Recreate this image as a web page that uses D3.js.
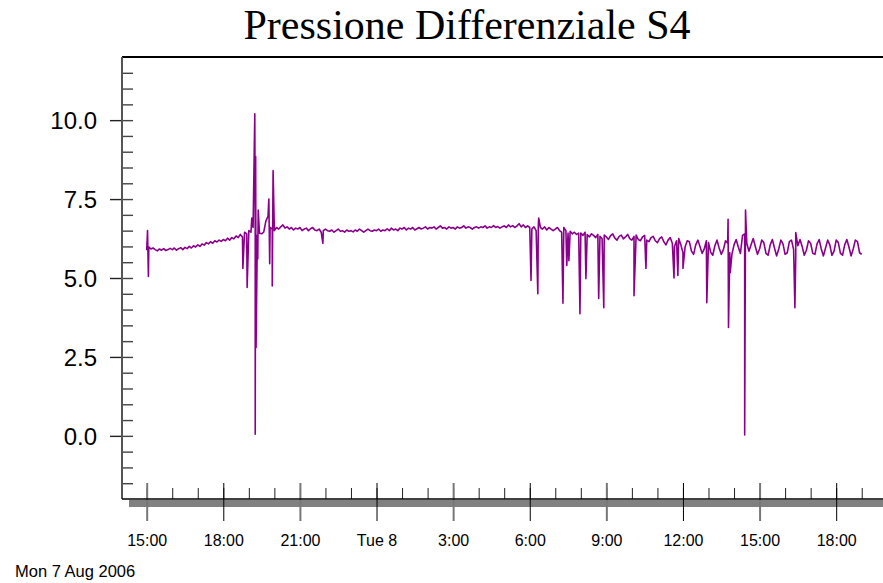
<!DOCTYPE html>
<html>
<head>
    <script src="https://d3js.org/d3.v7.min.js"></script>
    <style>
        body { margin: 0; background: #fff; }
        text { font-family: Arial, "Liberation Sans", sans-serif; }
    </style>
</head>
<body>
<div id="chart"></div>
<script>

    // readings every 5 minutes from Mon 7 Aug 2006 15:00, one row per hour
    var pressure = [
        5.88, 5.98, 5.92, 5.95, 5.90, 5.86, 5.92, 5.88, 5.93, 5.87, 5.90, 5.94,
        5.90, 5.95, 5.88, 5.93, 5.96, 5.90, 5.97, 5.93, 6.00, 5.95, 6.02, 5.98,
        6.05, 6.00, 6.08, 6.04, 6.12, 6.08, 6.15, 6.10, 6.18, 6.14, 6.20, 6.16,
        6.22, 6.18, 6.26, 6.20, 6.28, 6.24, 6.33, 6.28, 6.38, 6.30, 6.45, 6.40,
        6.50, 6.45, 6.60, 6.40, 6.35, 6.42, 6.40, 6.45, 6.80, 6.95, 6.60, 6.55,
        6.50, 6.60, 6.55, 6.62, 6.68, 6.58, 6.62, 6.55, 6.60, 6.52, 6.58, 6.55,
        6.60, 6.50, 6.55, 6.58, 6.50, 6.56, 6.60, 6.52, 6.50, 6.55, 6.45, 6.50,
        6.55, 6.50, 6.48, 6.52, 6.45, 6.50, 6.55, 6.48, 6.50, 6.45, 6.52, 6.48,
        6.50, 6.46, 6.52, 6.48, 6.55, 6.50, 6.45, 6.50, 6.55, 6.50, 6.48, 6.52,
        6.50, 6.55, 6.48, 6.52, 6.50, 6.56, 6.50, 6.58, 6.52, 6.55, 6.50, 6.58,
        6.55, 6.60, 6.52, 6.58, 6.55, 6.60, 6.52, 6.56, 6.60, 6.55, 6.58, 6.62,
        6.55, 6.60, 6.58, 6.62, 6.55, 6.60, 6.65, 6.58, 6.60, 6.55, 6.62, 6.58,
        6.60, 6.55, 6.62, 6.58, 6.60, 6.65, 6.58, 6.62, 6.60, 6.55, 6.60, 6.62,
        6.58, 6.62, 6.60, 6.65, 6.58, 6.62, 6.60, 6.66, 6.60, 6.63, 6.58, 6.62,
        6.65, 6.60, 6.68, 6.62, 6.66, 6.60, 6.65, 6.72, 6.62, 6.68, 6.60, 6.65,
        6.60, 6.55, 6.62, 6.50, 6.58, 6.60, 6.55, 6.62, 6.52, 6.60, 6.55, 6.50,
        6.55, 6.60, 6.50, 6.45, 6.60, 6.50, 6.42, 6.48, 6.40, 6.45, 6.38, 6.42,
        6.42, 6.35, 6.45, 6.38, 6.30, 6.40, 6.35, 6.28, 6.38, 6.32, 6.25, 6.36,
        6.30, 6.22, 6.34, 6.40, 6.26, 6.20, 6.32, 6.36, 6.24, 6.30, 6.38, 6.25,
        6.20, 6.32, 6.36, 6.22, 6.18, 6.30, 6.35, 6.20, 6.15, 6.28, 6.32, 6.18,
        6.12, 6.25, 6.30, 6.15, 6.05, 6.20, 6.28, 6.10, 6.00, 6.18, 6.25, 6.05,
        5.80, 5.98, 6.18, 6.15, 5.85, 5.75, 6.05, 6.20, 6.00, 5.78, 5.92, 6.18,
        6.12, 5.82, 5.72, 6.02, 6.20, 5.95, 5.75, 5.90, 6.18, 6.10, 5.80, 5.75,
        6.05, 6.22, 5.98, 5.78, 6.35, 6.40, 6.10, 5.85, 6.05, 6.25, 6.00, 5.75,
        5.92, 6.20, 6.12, 5.78, 5.72, 6.05, 6.22, 5.95, 5.70, 5.92, 6.20, 6.08,
        5.75, 5.80, 6.15, 6.20, 5.90, 5.72, 6.02, 6.22, 6.00, 5.72, 5.88, 6.18,
        6.10, 5.78, 5.75, 6.08, 6.22, 5.92, 5.70, 5.95, 6.20, 6.05, 5.72, 5.85,
        6.20, 6.12, 5.78, 5.72, 6.05, 6.22, 5.98, 5.70, 5.92, 6.20, 6.15, 5.80,
        5.75
    ];

    // short spikes, minutes after the start
    var spikeMinutes = [2, 4, 226, 236, 247, 254, 255, 256, 257, 261, 262, 287, 289, 295, 297, 414,
        903, 919, 921, 978, 987, 992, 1018, 1032, 1062, 1074, 1145, 1173, 1239, 1248, 1260,
        1316, 1366, 1367, 1371, 1405, 1407, 1523, 1525];
    var spikeValues = [6.5, 5.05, 5.3, 4.7, 6.9, 10.2, 0.05, 8.85, 2.8, 5.6, 7.15, 7.5, 5.45, 4.75, 8.4, 6.1,
        4.92, 4.5, 6.9, 4.2, 5.4, 5.55, 3.87, 4.98, 4.35, 4.06, 4.44, 5.3, 5.0, 5.08, 5.3,
        4.22, 6.86, 3.43, 5.17, 0.03, 7.15, 4.06, 6.44];

    var yTickValues = [0, 2.5, 5, 7.5, 10];
    var title = 'Pressione Differenziale S4';

    var start = new Date(2006, 7, 7, 15, 0);
    var stepMinutes = 5;

    var width = 883, height = 583;
    var plotLeft = 122, plotTop = 57, plotBottom = 499, plotRight = 883;

    var data = pressure.map(function(v, i) { return { t: i * stepMinutes, v: v }; })
        .concat(spikeMinutes.map(function(m, i) { return { t: m, v: spikeValues[i] }; }))
        .sort(function(a, b) { return a.t - b.t; })
        .map(function(d) { return { date: d3.timeMinute.offset(start, d.t), v: d.v }; });

    var x = d3.scaleTime()
        .domain([d3.timeMinute.offset(start, -58), d3.timeMinute.offset(start, 1730)])
        .range([plotLeft, plotRight]);

    var y = d3.scaleLinear()
        .domain([-2, 12])
        .range([plotBottom, plotTop]);

    var svg = d3.select('#chart').append('svg')
        .attr('width', width)
        .attr('height', height);

    svg.append('text')
        .attr('x', 467)
        .attr('y', 39)
        .attr('text-anchor', 'middle')
        .style('font-family', '"Liberation Serif", "Times New Roman", serif')
        .style('font-size', '42px')
        .text(title);

    // gray bar under the x axis
    svg.append('rect')
        .attr('x', plotLeft + 7)
        .attr('y', plotBottom + 1)
        .attr('width', plotRight - plotLeft - 7)
        .attr('height', 7)
        .attr('fill', '#808080');

    // top border
    svg.append('line')
        .attr('x1', plotLeft).attr('x2', plotRight)
        .attr('y1', plotTop).attr('y2', plotTop)
        .attr('stroke', '#000')
        .attr('stroke-width', 2);

    // y axis: minor ticks inside, labelled major ticks outside
    var minorY = d3.range(-1.5, 12, 0.5);
    svg.append('g')
        .attr('transform', 'translate(' + plotLeft + ',0)')
        .call(d3.axisRight(y).tickValues(minorY).tickSize(11).tickFormat(''))
        .call(function(g) {
            g.select('.domain').remove();
            g.selectAll('line').attr('stroke', '#444').attr('stroke-width', 1.4);
        });

    svg.append('g')
        .attr('transform', 'translate(' + plotLeft + ',0)')
        .call(d3.axisLeft(y).tickValues(yTickValues).tickSize(12).tickPadding(13)
            .tickFormat(d3.format('.1f')))
        .call(function(g) {
            g.select('.domain').remove();
            g.selectAll('line').attr('stroke', '#222').attr('stroke-width', 1.4);
            g.selectAll('text')
                .attr('dy', '0.36em')
                .style('font-family', 'Arial, "Liberation Sans", sans-serif')
                .style('font-size', '24px')
                .attr('fill', '#000');
        });

    svg.append('line')
        .attr('x1', plotLeft).attr('x2', plotLeft)
        .attr('y1', plotTop).attr('y2', plotBottom)
        .attr('stroke', '#555')
        .attr('stroke-width', 2);

    // x axis: hourly minor ticks above, 3-hour major ticks across
    svg.append('g')
        .attr('transform', 'translate(0,' + plotBottom + ')')
        .call(d3.axisTop(x).ticks(d3.timeHour.every(1)).tickSize(11).tickFormat(''))
        .call(function(g) {
            g.select('.domain').remove();
            g.selectAll('line').attr('stroke', '#222');
        });

    var fmtHour = d3.timeFormat('%-H:%M');
    var fmtDay = d3.timeFormat('%a %-d');

    svg.append('g')
        .attr('transform', 'translate(0,' + plotBottom + ')')
        .call(d3.axisBottom(x).ticks(d3.timeHour.every(3)).tickSize(22).tickPadding(14)
            .tickFormat(function(d) { return d.getHours() === 0 ? fmtDay(d) : fmtHour(d); }))
        .call(function(g) {
            g.select('.domain').remove();
            g.selectAll('line')
                .attr('y1', -16)
                .attr('stroke', function(d, i) { return i % 2 ? '#000' : '#777'; })
                .attr('stroke-width', function(d, i) { return i % 2 ? 1 : 2; });
            g.selectAll('text')
                .style('font-family', 'Arial, "Liberation Sans", sans-serif')
                .style('font-size', '16px')
                .attr('fill', '#000');
        });

    svg.append('line')
        .attr('x1', plotLeft).attr('x2', plotRight)
        .attr('y1', plotBottom).attr('y2', plotBottom)
        .attr('stroke', '#000')
        .attr('stroke-width', 1.5);

    svg.append('text')
        .attr('x', 15)
        .attr('y', 577)
        .style('font-size', '16.5px')
        .text(d3.timeFormat('%a %-d %b %Y')(start));

    var line = d3.line()
        .x(function(d) { return x(d.date); })
        .y(function(d) { return y(d.v); });

    svg.append('path')
        .datum(data)
        .attr('fill', 'none')
        .attr('stroke', '#8b008b')
        .attr('stroke-width', 1.6)
        .attr('stroke-linejoin', 'round')
        .attr('d', line);

</script>
</body>
</html>
